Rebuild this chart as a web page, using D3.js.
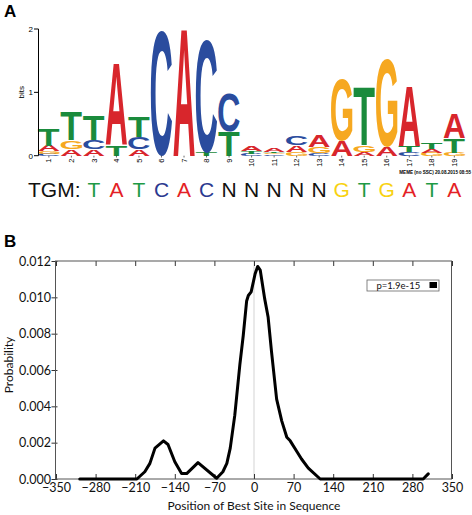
<!DOCTYPE html>
<html><head><meta charset="utf-8">
<script src="https://cdn.jsdelivr.net/npm/d3@7"></script>
<style>html,body{margin:0;padding:0;background:#fff;}svg{display:block;}</style>
</head><body>
<svg id="chart" width="472" height="515"></svg>
<script>
// ---------- Panel A data: sequence logo (bits per base per position) ----------
const positions = d3.range(1, 20);
const bitsA = [0.09, 0.11, 0.10, 1.30, 0.10, 0,    2.00, 0,    0,    0.08, 0.05, 0.10, 0.18, 0.24, 0.06, 0.14, 0.95, 0.06, 0.38];
const bitsC = [0.03, 0,    0.15, 0,    0.19, 1.98, 0,    1.78, 0.60, 0.03, 0.02, 0.15, 0.04, 0,    0,    0,    0.06, 0,    0];
const bitsG = [0.04, 0.13, 0,    0,    0,    0,    0,    0,    0,    0,    0.02, 0.06, 0.10, 0.98, 0.11, 1.40, 0,    0.05, 0.05];
const bitsT = [0.27, 0.45, 0.39, 0.17, 0.33, 0,    0,    0.05, 0.38, 0.04, 0.02, 0,    0,    0,    0.93, 0,    0.10, 0.11, 0.23];
const bitTicks = [0, 1, 2];
const consensusLabel = "TGM:";
const consensus = ["T","A","T","C","A","C","N","N","N","N","N","G","T","G","A","T","A"];
const consensusStart = 3;
const stamp = "MEME (no SSC) 20.08.2015 08:55";

// ---------- Panel B data: site distribution ----------
const sitePos  = [-308, -207, -193, -184, -175, -160, -152, -140, -128, -119, -99, -66, -55, -48, -42, -34, -25, -19, -13, -10, -5, 2, 6.5, 11, 19, 25, 31, 40, 49, 58, 64, 76, 84, 96, 117, 299, 308];
const siteProb = [0, 0, 0.0004, 0.00086, 0.0017, 0.0021, 0.0019, 0.00095, 0.0003, 0.0003, 0.0009, 0.00004, 0.0004, 0.00086, 0.0017, 0.0035, 0.0063, 0.0079, 0.0098, 0.0101, 0.0103, 0.0113, 0.0117, 0.0115, 0.0099, 0.0089, 0.0070, 0.0044, 0.0032, 0.0023, 0.0021, 0.0015, 0.0011, 0.0006, 0, 0, 0.00028];
const xTicks = [-350, -280, -210, -140, -70, 0, 70, 140, 210, 280, 350];
const yTicks = [0, 0.002, 0.004, 0.006, 0.008, 0.010, 0.012];
const legendLabel = "p=1.9e-15";
const xTitle = "Position of Best Site in Sequence";
const yTitle = "Probability";

const baseColor = {A: "#d8262c", C: "#2a4c9e", G: "#f6a820", T: "#1a8b3c"};
const consColor = {A: "#e41f26", C: "#2b3990", G: "#f8d212", T: "#1e9a45", N: "#111"};

const svg = d3.select("#chart");
svg.append("rect").attr("width", 472).attr("height", 515).attr("fill", "#fff");

// Panel labels
svg.append("text").attr("x", 4).attr("y", 17).text("A")
  .attr("font-family", "Liberation Sans, Arial, sans-serif").attr("font-weight", "bold").attr("font-size", 17);
svg.append("text").attr("x", 4).attr("y", 247).text("B")
  .attr("font-family", "Liberation Sans, Arial, sans-serif").attr("font-weight", "bold").attr("font-size", 17);

// ---------- Panel A ----------
const logoFont = "Liberation Sans";
const lx = d3.scaleBand().domain(positions).range([37.6, 465.6]).paddingInner(0.05).paddingOuter(0.025);
const ly = d3.scaleLinear().domain([0, 2]).range([155.7, 29]);

const cvs = document.createElement("canvas");
const ctx = cvs.getContext("2d");
ctx.font = `bold 100px "${logoFont}"`;
const metrics = {};
["A","C","G","T"].forEach(b => {
  const m = ctx.measureText(b);
  metrics[b] = {L: m.actualBoundingBoxLeft, R: m.actualBoundingBoxRight, A: m.actualBoundingBoxAscent, D: m.actualBoundingBoxDescent};
});

const logo = svg.append("g");
positions.forEach((p, i) => {
  const stack = [
    {b: "A", v: bitsA[i]}, {b: "C", v: bitsC[i]}, {b: "G", v: bitsG[i]}, {b: "T", v: bitsT[i]}
  ].filter(d => d.v > 0).sort((a, b) => a.v - b.v);
  let cum = 0;
  stack.forEach(d => {
    const y0 = ly(cum + d.v), y1 = ly(cum);
    cum += d.v;
    const h = y1 - y0, w = lx.bandwidth(), m = metrics[d.b];
    const sx = w / (m.L + m.R), sy = h / (m.A + m.D);
    logo.append("text").text(d.b)
      .attr("font-family", logoFont).attr("font-weight", "bold").attr("font-size", 100)
      .attr("fill", baseColor[d.b])
      .attr("transform", `translate(${lx(p)},${y0}) scale(${sx},${sy}) translate(${m.L},${m.A})`);
  });
});

// logo y axis
const la = svg.append("g").attr("font-family", "Liberation Sans, Arial, sans-serif");
la.append("line").attr("x1", 38.5).attr("x2", 38.5).attr("y1", ly(2)).attr("y2", ly(0)).attr("stroke", "#000").attr("stroke-width", 1);
bitTicks.forEach(t => {
  la.append("line").attr("x1", 34).attr("x2", 38.5).attr("y1", ly(t)).attr("y2", ly(t)).attr("stroke", "#000");
  la.append("text").attr("x", 33).attr("y", ly(t)).attr("dy", "0.35em").attr("text-anchor", "end").attr("font-size", 8).text(t);
});
la.append("text").attr("transform", `translate(24,${ly(1)}) rotate(-90)`).attr("text-anchor", "middle").attr("font-size", 8).text("bits");
positions.forEach(p => {
  const cx = lx(p) + lx.bandwidth() / 2;
  la.append("line").attr("x1", cx).attr("x2", cx).attr("y1", 155.7).attr("y2", 157.5).attr("stroke", "#000").attr("stroke-width", 0.6);
  la.append("text").attr("transform", `translate(${cx},158.5) rotate(-90)`).attr("dy", "0.35em")
    .attr("text-anchor", "end").attr("font-size", 7.5).text(p);
});
la.append("text").attr("x", 471).attr("y", 173.5).attr("text-anchor", "end").attr("font-size", 4.6).attr("font-weight", "bold").text(stamp);

// consensus row
const cons = svg.append("g").attr("font-family", "Liberation Sans, Arial, sans-serif").attr("font-size", 21);
cons.append("text").attr("x", 28).attr("y", 196.5).attr("fill", "#111").text(consensusLabel);
consensus.forEach((c, i) => {
  const p = consensusStart + i;
  cons.append("text").attr("x", lx(p) + lx.bandwidth() / 2).attr("y", 196.5).attr("text-anchor", "middle")
    .attr("fill", consColor[c]).text(c);
});

// ---------- Panel B ----------
const fontB = "Lato, 'Open Sans', sans-serif";
const x = d3.scaleLinear().domain([-350, 350]).range([56, 452]);
const y = d3.scaleLinear().domain([0, 0.012]).range([479, 261]);
const gB = svg.append("g").attr("font-family", fontB);

// zero line
gB.append("line").attr("x1", x(0)).attr("x2", x(0)).attr("y1", y(0.012)).attr("y2", y(0)).attr("stroke", "#c8c8c8").attr("stroke-width", 0.8);

// axes
const axB = gB.append("g").attr("transform", `translate(0,${y(0)})`)
  .call(d3.axisBottom(x).tickValues(xTicks).tickSize(-5).tickPadding(4.5).tickFormat(d3.format("d")));
const axT = gB.append("g").attr("transform", `translate(0,${y(0.012)})`)
  .call(d3.axisTop(x).tickValues(xTicks).tickSize(-5).tickFormat(""));
const axL = gB.append("g").attr("transform", `translate(55.5,0)`)
  .call(d3.axisLeft(y).tickValues(yTicks).tickSize(4).tickPadding(0.5).tickFormat(d3.format(".3f")));
axL.selectAll(".tick line").attr("x2", -4).attr("x1", 2);
[axB, axT, axL].forEach(a => {
  a.select(".domain").remove();
  a.selectAll(".tick line").attr("stroke", "#333");
  a.selectAll("text").attr("font-family", fontB).attr("font-size", 12.5).attr("fill", "#111");
});
// frame
gB.append("rect").attr("x", 55.5).attr("y", 261).attr("width", 396).attr("height", 218)
  .attr("fill", "none").attr("stroke", "#555").attr("stroke-width", 1);

// curve
const line = d3.line().x((d, i) => x(sitePos[i])).y(d => y(d));
gB.append("path").datum(siteProb).attr("d", line).attr("fill", "none").attr("stroke", "#000")
  .attr("stroke-width", 3).attr("stroke-linejoin", "round").attr("stroke-linecap", "round");

// legend
const lg = gB.append("g");
lg.append("rect").attr("x", 367).attr("y", 280).attr("width", 72).attr("height", 11)
  .attr("fill", "#fff").attr("stroke", "#666").attr("stroke-width", 0.8);
lg.append("text").attr("x", 376.5).attr("y", 288.8).attr("font-size", 9.5).attr("fill", "#111").text(legendLabel);
lg.append("rect").attr("x", 429.5).attr("y", 282).attr("width", 7.5).attr("height", 6).attr("fill", "#000");

// titles
gB.append("text").attr("x", 254).attr("y", 510).attr("text-anchor", "middle").attr("font-size", 12).attr("fill", "#111").text(xTitle);
gB.append("text").attr("transform", "translate(12.5,365) rotate(-90)").attr("text-anchor", "middle").attr("font-size", 12).attr("fill", "#111").text(yTitle);
</script>
</body></html>
